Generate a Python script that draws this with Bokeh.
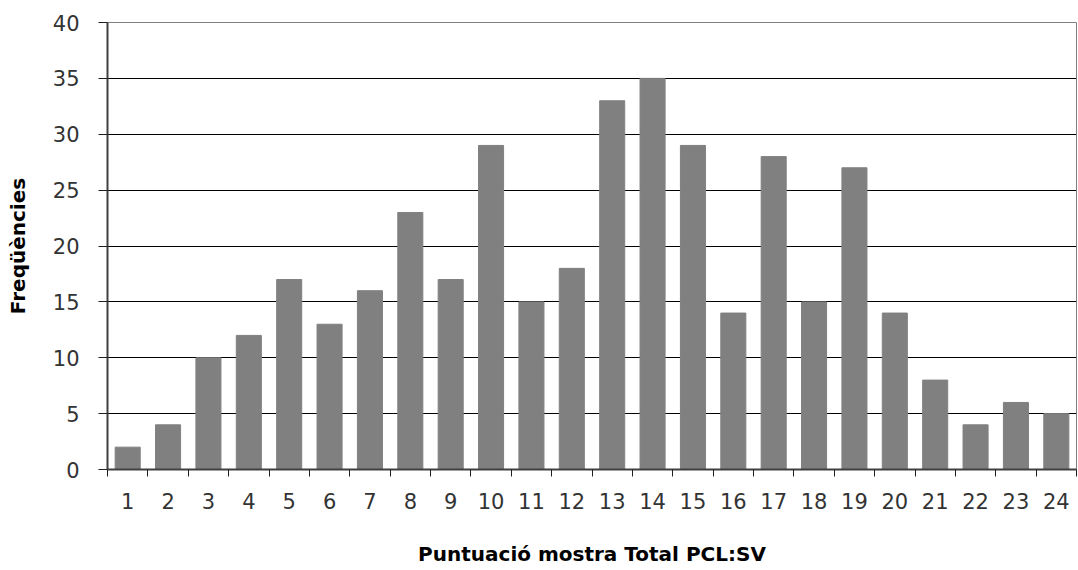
from bokeh.plotting import figure
from bokeh.models import FixedTicker, Range1d
from bokeh.embed import file_html
from bokeh.resources import INLINE

scores = list(range(1, 25))
freqs = [2, 4, 10, 12, 17, 13, 16, 23, 17, 29, 15, 18, 33, 35, 29, 14, 28, 15, 27, 14, 8, 4, 6, 5]
y_ticks = [0, 5, 10, 15, 20, 25, 30, 35, 40]

p = figure(width=1078, height=570, output_backend="svg", toolbar_location=None,
           x_range=Range1d(0.5, 24.5), y_range=Range1d(0, 40),
           min_border_left=107, min_border_right=2, min_border_top=22, min_border_bottom=101)

p.vbar(x=scores, top=freqs, width=0.62, bottom=0, fill_color="#808080", line_color="#808080")

p.outline_line_color = "#808080"
p.outline_line_width = 1
p.background_fill_color = "white"

p.xgrid.visible = False
p.ygrid.ticker = FixedTicker(ticks=y_ticks[:-1])
p.ygrid.grid_line_color = "black"
p.ygrid.grid_line_width = 1

p.xaxis.ticker = FixedTicker(ticks=scores, minor_ticks=[s - 0.5 for s in scores] + [24.5])
p.xaxis.major_tick_out = 0
p.xaxis.major_tick_in = 0
p.xaxis.minor_tick_out = 7
p.xaxis.minor_tick_in = 0
p.xaxis.major_label_standoff = 16
p.xaxis.axis_label = "Puntuació mostra Total PCL:SV"
p.xaxis.axis_label_standoff = 30

p.yaxis.ticker = FixedTicker(ticks=y_ticks)
p.yaxis.major_tick_out = 9
p.yaxis.major_tick_in = 0
p.yaxis.minor_tick_line_color = None
p.yaxis.major_label_standoff = 19
p.yaxis.axis_label = "Freqüències"
p.yaxis.axis_label_standoff = 20

for ax in (p.xaxis, p.yaxis):
    ax.axis_line_color = "#404040"
    ax.axis_line_width = 2
    ax.major_tick_line_color = "#202020"
    ax.major_label_text_font = "DejaVu Sans"
    ax.major_label_text_font_size = "21px"
    ax.major_label_text_color = "#333333"
    ax.axis_label_text_font = "DejaVu Sans"
    ax.axis_label_text_font_size = "20px"
    ax.axis_label_text_font_style = "bold"
    ax.axis_label_text_color = "black"

p.xaxis.minor_tick_line_color = "#202020"

open("out.html", "w").write(file_html(p, INLINE))
